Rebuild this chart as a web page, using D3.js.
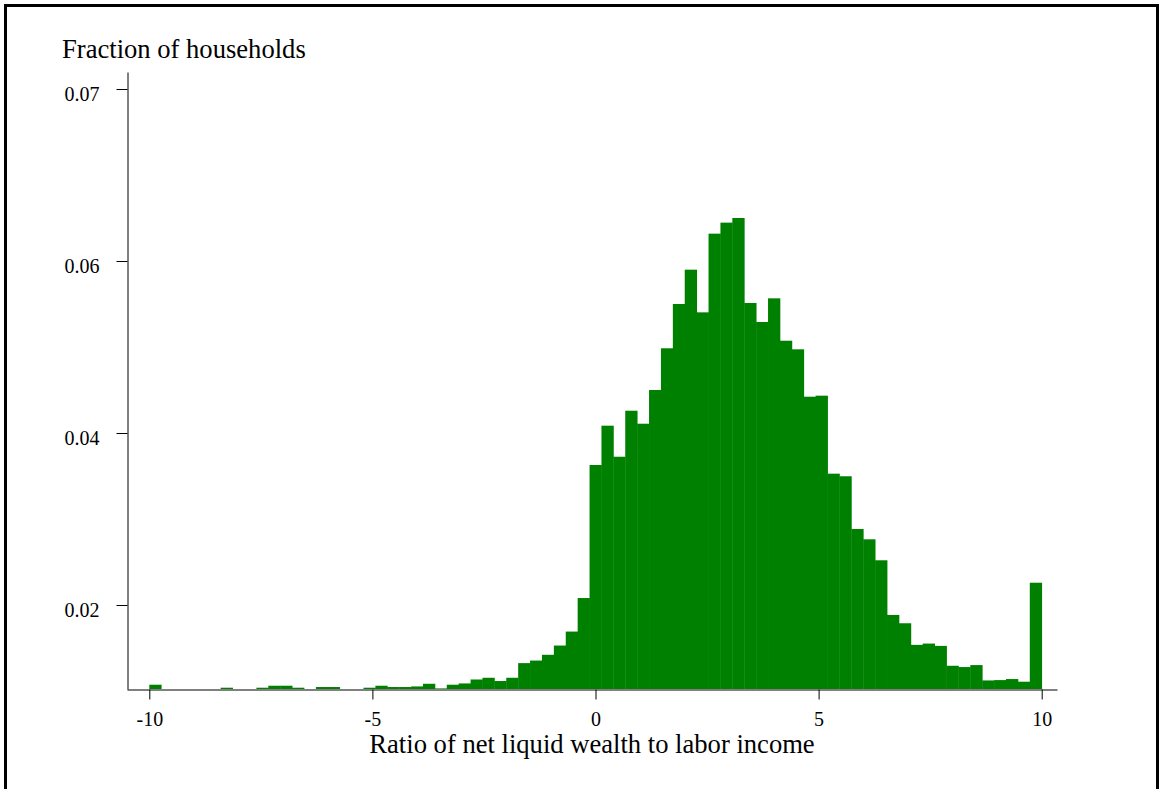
<!DOCTYPE html>
<html>
<head>
<meta charset="utf-8">
<script src="https://cdn.jsdelivr.net/npm/d3@7"></script>
<style>
    body { margin: 0; background: #fff; }
    svg text { font-family: "Liberation Serif", "Times New Roman", serif; fill: #000; }
</style>
</head>
<body>
<div id="chart"></div>
<script>
// histogram bins: 75 bins of equal width between -10 and 10
const binStart = -10;
const binEnd = 10;
const binCount = 75;

// fraction of households per bin (left to right)
const fractions = [
    0.01070, 0.0102, 0.0102, 0.0102, 0.0102, 0.0102, 0.01035, 0.0102, 0.0102, 0.01035,
    0.01058, 0.01058, 0.01035, 0.0102, 0.01043, 0.01043, 0.0102, 0.0102, 0.01035, 0.01058,
    0.01043, 0.01043, 0.01050, 0.01081, 0.01027, 0.01070, 0.01085, 0.01131, 0.01151, 0.01113,
    0.01151, 0.01322, 0.01352, 0.01419, 0.01527, 0.01690, 0.02081, 0.03628, 0.04085, 0.03724,
    0.04259, 0.04108, 0.04500, 0.04985, 0.05500, 0.05899, 0.05403, 0.06159, 0.06223, 0.06250,
    0.05512, 0.05291, 0.05566, 0.05073, 0.04973, 0.04422, 0.04434, 0.03527, 0.03497, 0.02884,
    0.02764, 0.02520, 0.01884, 0.01787, 0.01535, 0.01550, 0.01523, 0.01291, 0.01276, 0.01299,
    0.01120, 0.01124, 0.01136, 0.01105, 0.02259
];

// axis ticks
const xTicks = [-10, -5, 0, 5, 10];
const xTickLabels = ["-10", "-5", "0", "5", "10"];
const yTicks = [0.02, 0.04, 0.06, 0.07];
const yTickLabels = ["0.02", "0.04", "0.06", "0.07"];

// axis extents (the printed y axis is not evenly spaced, so it is piecewise)
const yDomain = [0.0102, 0.02, 0.04, 0.06, 0.07, 0.071];

const width = 1161, height = 789;
const barColor = "#008000";

let svg = d3.select("#chart").append("svg")
    .attr("width", width)
    .attr("height", height);

svg.append("rect")
    .attr("width", width).attr("height", height)
    .attr("fill", "#fff");

// outer frame
svg.append("rect")
    .attr("x", 5.5).attr("y", 5.5)
    .attr("width", 1152).attr("height", 820)
    .attr("fill", "none")
    .attr("stroke", "#000")
    .attr("stroke-width", 3);

let x = d3.scaleLinear()
    .domain([-10.5, 10.343])
    .range([127, 1057]);

let y = d3.scaleLinear()
    .domain(yDomain)
    .range([689, 605, 433, 261, 89, 72]);

let binWidth = (binEnd - binStart) / binCount;
let bins = fractions.map((f, i) => ({
    x0: binStart + i * binWidth,
    x1: binStart + (i + 1) * binWidth,
    value: f
}));

// bars
svg.append("g")
    .selectAll("rect")
    .data(bins)
    .enter()
    .append("rect")
    .attr("x", d => x(d.x0))
    .attr("width", d => x(d.x1) - x(d.x0) + 0.4)
    .attr("y", d => y(d.value))
    .attr("height", d => y(yDomain[0]) - y(d.value))
    .attr("fill", barColor);

// x axis
let xAxis = svg.append("g")
    .attr("transform", `translate(0, ${y(yDomain[0]) + 0.5})`)
    .call(d3.axisBottom(x).tickValues(xTicks).tickSize(10).tickSizeOuter(0)
        .tickFormat((d, i) => xTickLabels[i]));
xAxis.selectAll("text")
    .attr("y", 36).attr("dy", 0)
    .style("font-size", "20px");

// y axis
let yAxis = svg.append("g")
    .attr("transform", `translate(${x(-10.5) + 0.5}, 0)`)
    .call(d3.axisLeft(y).tickValues(yTicks).tickSize(11).tickSizeOuter(0)
        .tickFormat((d, i) => yTickLabels[i]));
yAxis.selectAll("text")
    .attr("x", -28).attr("dy", "0.55em")
    .style("font-size", "20px");

svg.selectAll(".domain, .tick line").attr("stroke", "#000");

// titles
svg.append("text")
    .attr("x", 62).attr("y", 58)
    .style("font-size", "26.6px")
    .text("Fraction of households");

svg.append("text")
    .attr("x", (x.range()[0] + x.range()[1]) / 2)
    .attr("y", 753)
    .attr("text-anchor", "middle")
    .style("font-size", "26.6px")
    .text("Ratio of net liquid wealth to labor income");
</script>
</body>
</html>
